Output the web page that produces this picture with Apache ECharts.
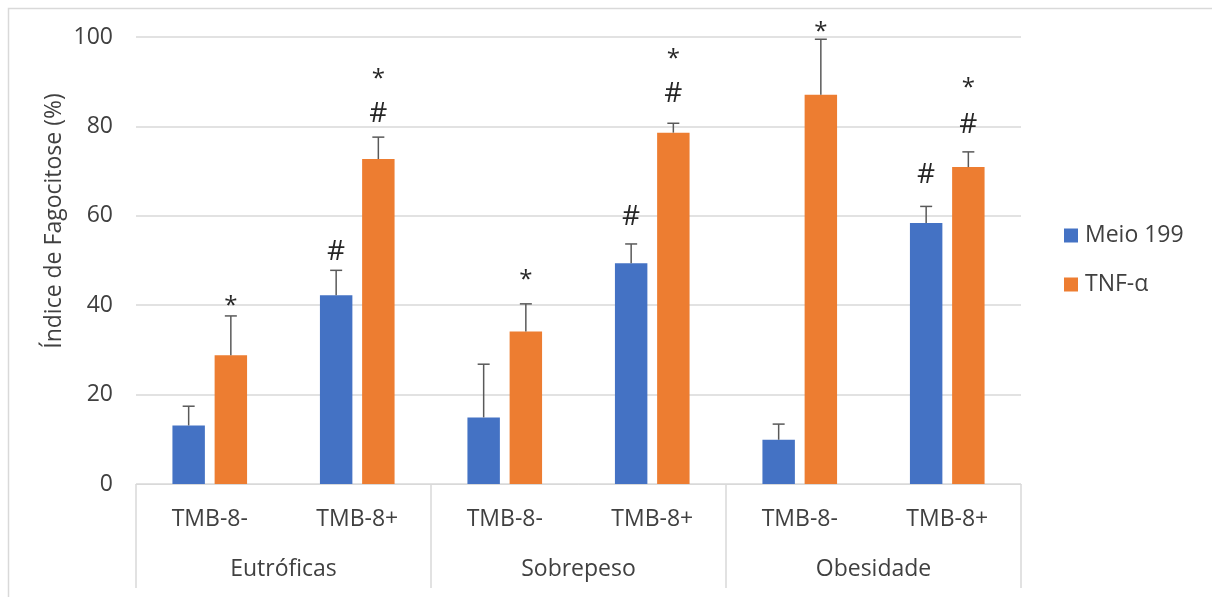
<!DOCTYPE html>
<html>
<head>
<meta charset="utf-8">
<script src="https://cdn.jsdelivr.net/npm/echarts@6/dist/echarts.min.js"></script>
<style>
html,body{margin:0;padding:0;background:#fff;}
#c{width:1212px;height:597px;}
</style>
</head>
<body>
<div id="c"></div>
<script>
// ---- data ----
var categories = ['TMB-8-', 'TMB-8+', 'TMB-8-', 'TMB-8+', 'TMB-8-', 'TMB-8+'];
var groups = ['Eutróficas', 'Sobrepeso', 'Obesidade'];
var seriesNames = ['Meio 199', 'TNF-α'];
var meio = [13.1, 42.2, 14.9, 49.4, 9.9, 58.4];
var meioErr = [4.3, 5.6, 11.9, 4.3, 3.5, 3.7];
var tnf = [28.8, 72.7, 34.1, 78.6, 87.1, 70.9];
var tnfErr = [8.8, 4.9, 6.2, 2.1, 12.4, 3.4];
// significance marks (value level where each mark sits)
var meioHashAt = [null, 51.8, null, 59.8, null, 69.2];
var tnfHashAt = [null, 82.7, null, 87.2, null, 80.4];
var tnfStarAt = [40.8, 91.6, 46.8, 96.1, 102.2, 89.6];
var yTicks = [0, 20, 40, 60, 80, 100];

var FONT = 'Open Sans';
var FS = 23;
var TXT = '#404040';
var BAR_W = 0.22, BAR_GAP = 0.30;

function barOffset(api, idx) {
  var band = api.size([1, 0])[0];
  var w = band * BAR_W;
  var off = (w + w * BAR_GAP) / 2;
  return idx === 0 ? -off : off;
}

function errSeries(idx, vals, errs) {
  return {
    type: 'custom',
    xAxisIndex: 0,
    z: 5,
    silent: true,
    data: vals.map(function (v, i) { return [i, v, v + errs[i]]; }),
    renderItem: function (params, api) {
      var x = api.value(0);
      var p0 = api.coord([x, api.value(1)]);
      var p1 = api.coord([x, api.value(2)]);
      var cx = p0[0] + barOffset(api, idx);
      var cap = 6;
      var st = { stroke: '#595959', lineWidth: 1.5 };
      return {
        type: 'group',
        children: [
          { type: 'line', shape: { x1: cx, y1: p0[1], x2: cx, y2: p1[1] }, style: st },
          { type: 'line', shape: { x1: cx - cap, y1: p1[1], x2: cx + cap, y2: p1[1] }, style: st }
        ]
      };
    }
  };
}

function markSeries(idx, at, ch, size, dy) {
  var d = [];
  at.forEach(function (v, i) { if (v != null) d.push([i, v]); });
  return {
    type: 'custom',
    xAxisIndex: 0,
    z: 6,
    silent: true,
    data: d,
    renderItem: function (params, api) {
      var p = api.coord([api.value(0), api.value(1)]);
      return {
        type: 'text',
        x: p[0] + barOffset(api, idx),
        y: p[1] + dy,
        style: {
          text: ch, fill: '#262626', font: size + 'px "' + FONT + '"',
          align: 'center', verticalAlign: 'middle'
        }
      };
    }
  };
}

var chart = echarts.init(document.getElementById('c'), null, { renderer: 'canvas' });
chart.setOption({
  backgroundColor: '#fff',
  animation: false,
  textStyle: { fontFamily: FONT },
  grid: { left: 136, right: 191, top: 37, bottom: 113, containLabel: false },
  legend: {
    orient: 'vertical',
    left: 1059,
    top: 219,
    itemWidth: 14,
    itemHeight: 14,
    itemGap: 26,
    icon: 'rect',
    data: seriesNames,
    textStyle: { fontSize: FS, color: TXT, fontFamily: FONT, lineHeight: 23, padding: [0, 0, 0, 2] }
  },
  xAxis: [
    {
      type: 'category',
      data: categories,
      position: 'bottom',
      axisLine: { show: true, lineStyle: { color: '#d9d9d9', width: 1 } },
      axisTick: { show: false },
      axisLabel: { margin: 24, fontSize: FS, color: TXT, fontFamily: FONT, interval: 0 }
    },
    {
      type: 'category',
      data: groups,
      position: 'bottom',
      axisLine: { show: false },
      axisTick: { show: true, length: 104, interval: 0, alignWithLabel: false, lineStyle: { color: '#d9d9d9', width: 1.5 } },
      axisLabel: { margin: 74, fontSize: FS, color: TXT, fontFamily: FONT, interval: 0 },
      splitLine: { show: false }
    }
  ],
  yAxis: {
    type: 'value',
    min: yTicks[0],
    max: yTicks[yTicks.length - 1],
    interval: yTicks[1] - yTicks[0],
    axisLine: { show: false },
    axisTick: { show: false },
    axisLabel: { margin: 23, fontSize: FS, color: TXT, fontFamily: FONT },
    splitLine: { lineStyle: { color: '#d9d9d9', width: 1.5 } }
  },
  graphic: [
    {
      type: 'rect', left: 6, top: 6, z: -10, silent: true,
      shape: { width: 1205, height: 600 },
      style: { fill: 'none', stroke: '#d9d9d9', lineWidth: 1.5 }
    },
    {
      type: 'text', x: 54, y: 221, rotation: Math.PI / 2, silent: true,
      style: { text: 'Índice de Fagocitose (%)', font: FS + 'px "' + FONT + '"', fill: TXT, align: 'center', verticalAlign: 'middle' }
    }
  ],
  series: [
    {
      name: seriesNames[0], type: 'bar', data: meio, xAxisIndex: 0,
      barWidth: (BAR_W * 100) + '%', barGap: (BAR_GAP * 100) + '%',
      itemStyle: { color: '#4472C4' }
    },
    {
      name: seriesNames[1], type: 'bar', data: tnf, xAxisIndex: 0,
      barWidth: (BAR_W * 100) + '%', barGap: (BAR_GAP * 100) + '%',
      itemStyle: { color: '#ED7D31' }
    },
    errSeries(0, meio, meioErr),
    errSeries(1, tnf, tnfErr),
    markSeries(0, meioHashAt, '#', 28, 0),
    markSeries(1, tnfHashAt, '#', 28, 0),
    markSeries(1, tnfStarAt, '*', 24, 5)
  ]
});
</script>
</body>
</html>
